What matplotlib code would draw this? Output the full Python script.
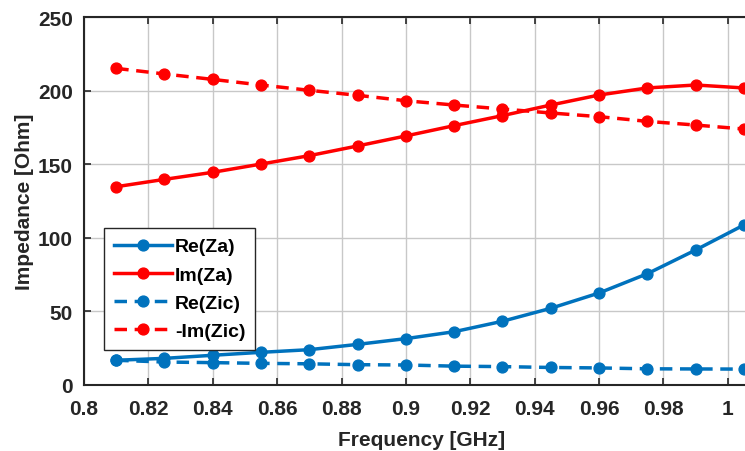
import matplotlib
matplotlib.use("Agg")
import matplotlib.pyplot as plt
import numpy as np

plt.rcParams['font.family'] = ['Liberation Sans', 'DejaVu Sans']
plt.rcParams['font.weight'] = 'bold'

freq = [0.81, 0.825, 0.84, 0.855, 0.87, 0.885, 0.9, 0.915, 0.93, 0.945, 0.96, 0.975, 0.99, 1.005]
re_za = [16.8, 18.1, 20.2, 22.2, 24.0, 27.6, 31.5, 36.2, 43.3, 52.1, 62.5, 75.6, 91.7, 108.7]
im_za = [134.7, 139.7, 144.5, 150.1, 155.8, 162.4, 169.2, 176.2, 183.0, 190.2, 197.0, 201.8, 203.8, 201.8]
re_zic = [16.8, 15.6, 15.2, 14.7, 14.4, 13.8, 13.6, 12.8, 12.5, 11.9, 11.6, 11.0, 10.9, 10.8]
neg_im_zic = [215.1, 211.3, 207.6, 203.8, 200.2, 196.8, 193.1, 190.2, 187.5, 184.8, 182.3, 179.1, 176.6, 173.9]
labels = ['Re(Za)', 'Im(Za)', 'Re(Zic)', '-Im(Zic)']

blue = '#0072BD'
red = '#FF0000'

fig = plt.figure(figsize=(7.45, 4.52), dpi=100)
ax = fig.add_axes([84/745, 66/452, 676/745, 368/452])

kw = dict(marker='o', markersize=7.8, linewidth=2.5, clip_on=False)
dash = (0, (3.6, 2.2))
ax.plot(freq, re_za, color=blue, linestyle='-', label=labels[0], **kw)
ax.plot(freq, im_za, color=red, linestyle='-', label=labels[1], **kw)
ax.plot(freq, re_zic, color=blue, linestyle=dash, label=labels[2], **kw)
ax.plot(freq, neg_im_zic, color=red, linestyle=dash, label=labels[3], **kw)

ax.set_xlim(0.8, 1.01)
ax.set_ylim(0, 250)
ax.set_xticks(np.arange(0.8, 1.001, 0.02))
ax.set_xticklabels(['0.8', '0.82', '0.84', '0.86', '0.88', '0.9', '0.92', '0.94', '0.96', '0.98', '1'])
ax.set_yticks(np.arange(0, 251, 50))
ax.grid(True, color='#c8c8c8', linewidth=1.0)
ax.set_axisbelow(True)
ax.tick_params(direction='in', length=5, width=1.2, labelsize=15, colors='#262626', top=True)
ax.tick_params(axis='x', pad=10)
ax.tick_params(axis='y', pad=8)
for lab in ax.get_xticklabels() + ax.get_yticklabels():
    lab.set_fontweight('bold')
for s in ax.spines.values():
    s.set_color('#262626')
    s.set_linewidth(1.5)
ax.set_xlabel('Frequency [GHz]', fontsize=15, fontweight='bold', color='#262626', labelpad=9)
ax.set_ylabel('Impedance [Ohm]', fontsize=15, fontweight='bold', color='#262626', labelpad=3)

leg = ax.legend(loc='upper left', bbox_to_anchor=(0.0296, 0.4266), fontsize=14,
                fancybox=False, edgecolor='#262626', framealpha=1, handlelength=3.0,
                borderaxespad=0, labelspacing=0.55, handletextpad=0.15, borderpad=0.5)
leg.get_frame().set_linewidth(1.0)
for t in leg.get_texts():
    t.set_fontweight('bold')

fig.savefig('out.png', dpi=100)
